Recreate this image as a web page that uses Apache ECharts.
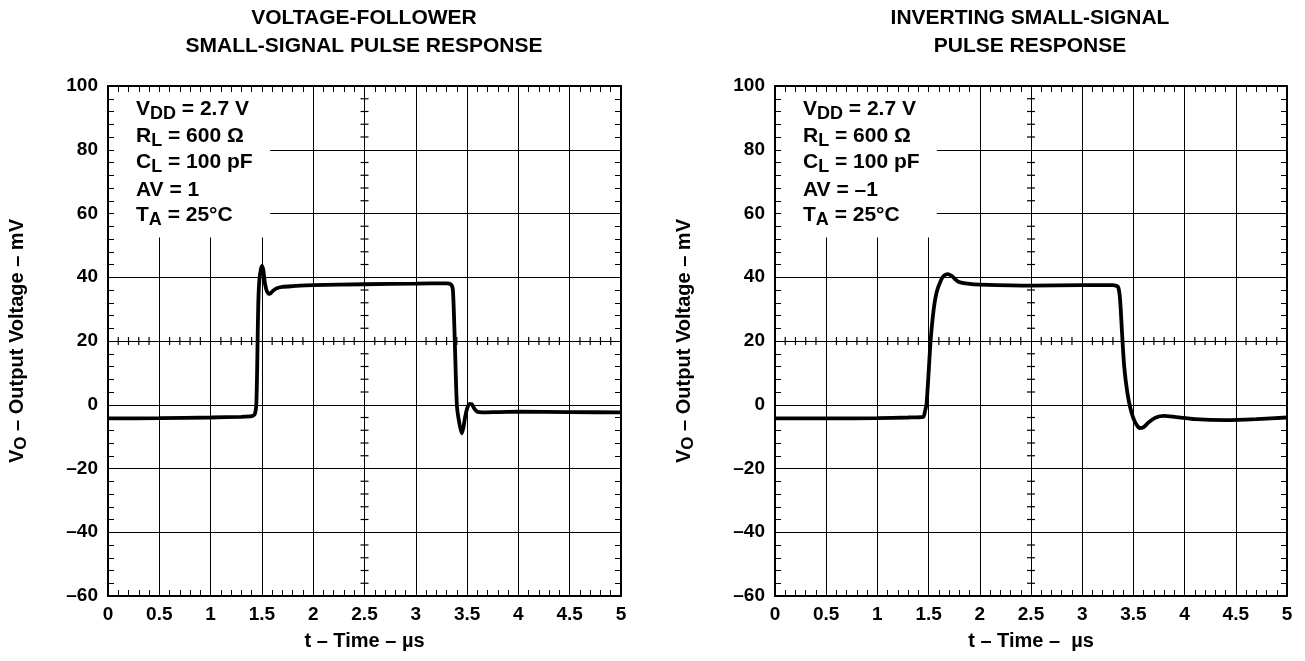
<!DOCTYPE html>
<html><head><meta charset="utf-8">
<script src="https://cdn.jsdelivr.net/npm/echarts@6/dist/echarts.min.js"></script>
<style>html,body{margin:0;padding:0;background:#fff}#c{width:1305px;height:661px}</style>
</head><body><div id="c"></div>
<script>
// ---------- data ----------
const titleA = ['VOLTAGE-FOLLOWER', 'SMALL-SIGNAL PULSE RESPONSE'];
const titleB = ['INVERTING SMALL-SIGNAL', 'PULSE RESPONSE'];
const xLabelA = 't \u2013 Time \u2013 \u00b5s';
const xLabelB = 't \u2013 Time \u2013  \u00b5s';
const xTickValues = [0, 0.5, 1, 1.5, 2, 2.5, 3, 3.5, 4, 4.5, 5];
const yTickValues = [-60, -40, -20, 0, 20, 40, 60, 80, 100];
const centerTime = 2.5;
const centerVolt = 20;
const timeMinor = [0.1,0.2,0.3,0.4,0.6,0.7,0.8,0.9,1.1,1.2,1.3,1.4,1.6,1.7,1.8,1.9,2.1,2.2,2.3,2.4,2.6,2.7,2.8,2.9,3.1,3.2,3.3,3.4,3.6,3.7,3.8,3.9,4.1,4.2,4.3,4.4,4.6,4.7,4.8,4.9];
const voltMinor = [-56,-52,-48,-44,-36,-32,-28,-24,-16,-12,-8,-4,4,8,12,16,24,28,32,36,44,48,52,56,64,68,72,76,84,88,92,96];
const notesA = [['V','DD',' = 2.7 V'], ['R','L',' = 600 \u03a9'], ['C','L',' = 100 pF'], ['AV','',' = 1'], ['T','A',' = 25\u00b0C']];
const notesB = [['V','DD',' = 2.7 V'], ['R','L',' = 600 \u03a9'], ['C','L',' = 100 pF'], ['AV','',' = \u20131'], ['T','A',' = 25\u00b0C']];
// voltage follower response (µs, mV)
const timeA = [0, 0.5, 1.0, 1.3, 1.40, 1.43, 1.445, 1.452, 1.458, 1.465, 1.475, 1.49, 1.503, 1.515, 1.53, 1.55, 1.57, 1.586, 1.61, 1.64, 1.7, 1.8, 2.0, 2.5, 3.0, 3.3, 3.34, 3.36, 3.37, 3.38, 3.40, 3.42, 3.447, 3.465, 3.48, 3.50, 3.52, 3.545, 3.57, 3.60, 3.65, 3.8, 4.0, 4.5, 5.0];
const voltA = [-4.3, -4.2, -4.0, -3.8, -3.6, -3.0, 0, 8, 20, 32, 39, 42.5, 43.6, 42, 38, 35.5, 34.8, 35, 35.8, 36.5, 37, 37.2, 37.5, 37.8, 38, 38.1, 37.8, 36.5, 30, 20, 0, -5, -9, -7, -4, -1.2, 0.2, 0.2, -1.2, -2.2, -2.4, -2.3, -2.2, -2.3, -2.4];
// inverting response (µs, mV)
const timeB = [0, 0.5, 1.0, 1.3, 1.448, 1.465, 1.48, 1.50, 1.52, 1.55, 1.58, 1.62, 1.65, 1.69, 1.73, 1.79, 1.9, 2.0, 2.5, 3.0, 3.3, 3.35, 3.37, 3.39, 3.41, 3.44, 3.47, 3.51, 3.56, 3.60, 3.65, 3.72, 3.8, 3.9, 4.1, 4.4, 4.7, 5.0];
const voltB = [-4.3, -4.3, -4.2, -4.0, -3.8, -2, 0.2, 10, 20.3, 30, 35.5, 39, 40.5, 41, 40.3, 38.6, 37.9, 37.7, 37.4, 37.5, 37.5, 37, 33, 22, 12, 4, -1, -5, -7.3, -7, -5.5, -4, -3.5, -3.8, -4.5, -4.8, -4.5, -4.0];

// ---------- chart ----------
const FONT = '"Liberation Sans", Arial, Helvetica, sans-serif';
const grids = [{left:108, top:86, width:513, height:510}, {left:775, top:86, width:512, height:510}];
const black = '#000';
const lblStyle = {color: black, fontFamily: FONT, fontWeight: 'bold', fontSize: 19};

function xAxes(g, name) {
  const base = {gridIndex: g, type: 'value', min: 0, max: 5, interval: 0.5};
  return [
    Object.assign({}, base, {z: 0, axisLine: {show: false}, axisTick: {show: false}, axisLabel: {show: false},
      splitLine: {show: true, lineStyle: {color: black, width: 1}}}),
    Object.assign({}, base, {z: 3, position: 'bottom',
      axisLine: {show: true, onZero: false, lineStyle: {color: black, width: 2}},
      axisTick: {show: true, inside: true, length: 6, lineStyle: {color: black, width: 1}},
      minorTick: {show: true, splitNumber: 5, length: 6, lineStyle: {color: black, width: 1}},
      axisLabel: Object.assign({margin: 9, formatter: v => String(v)}, lblStyle),
      splitLine: {show: false},
      name: name, nameLocation: 'middle', nameGap: 35,
      nameTextStyle: {color: black, fontFamily: FONT, fontWeight: 'bold', fontSize: 20}}),
    Object.assign({}, base, {z: 3, position: 'top',
      axisLine: {show: true, onZero: false, lineStyle: {color: black, width: 2}},
      axisTick: {show: true, inside: true, length: 6, lineStyle: {color: black, width: 1}},
      minorTick: {show: true, splitNumber: 5, length: 6, lineStyle: {color: black, width: 1}},
      axisLabel: {show: false}, splitLine: {show: false}})
  ];
}
function yAxes(g) {
  const base = {gridIndex: g, type: 'value', min: -60, max: 100, interval: 20};
  return [
    Object.assign({}, base, {z: 0, axisLine: {show: false}, axisTick: {show: false}, axisLabel: {show: false},
      splitLine: {show: true, lineStyle: {color: black, width: 1}}}),
    Object.assign({}, base, {z: 3, position: 'left',
      axisLine: {show: true, onZero: false, lineStyle: {color: black, width: 2}},
      axisTick: {show: true, inside: true, length: 6, lineStyle: {color: black, width: 1}},
      minorTick: {show: true, splitNumber: 5, length: 6, lineStyle: {color: black, width: 1}},
      axisLabel: Object.assign({margin: 10, formatter: v => v < 0 ? '\u2013' + Math.abs(v) : String(v)}, lblStyle),
      splitLine: {show: false},
      name: 'V{s|O} \u2013 Output Voltage \u2013 mV', nameLocation: 'middle', nameGap: 78,
      nameTextStyle: {color: black, fontFamily: FONT, fontWeight: 'bold', fontSize: 20,
        rich: {s: {color: black, fontFamily: FONT, fontWeight: 'bold', fontSize: 17, padding: [9, 0, 0, 0]}}}}),
    Object.assign({}, base, {z: 3, position: 'right',
      axisLine: {show: true, onZero: false, lineStyle: {color: black, width: 2}},
      axisTick: {show: true, inside: true, length: 6, lineStyle: {color: black, width: 1}},
      minorTick: {show: true, splitNumber: 5, length: 6, lineStyle: {color: black, width: 1}},
      axisLabel: {show: false}, splitLine: {show: false}})
  ];
}

function crossTicks(g) {
  const data = timeMinor.map(t => [t, centerVolt, 0]).concat(voltMinor.map(v => [centerTime, v, 1]));
  return {
    type: 'custom', xAxisIndex: g * 3, yAxisIndex: g * 3, z: 4, silent: true, data: data,
    renderItem: (params, api) => {
      const p = api.coord([api.value(0), api.value(1)]);
      const vert = api.value(2) === 0;
      return {type: 'line', shape: vert ? {x1: p[0], y1: p[1] - 4, x2: p[0], y2: p[1] + 4}
                                      : {x1: p[0] - 4, y1: p[1], x2: p[0] + 4, y2: p[1]},
        style: {stroke: black, lineWidth: 1.2}};
    }
  };
}
function curve(g, ts, vs) {
  return {
    type: 'line', xAxisIndex: g * 3, yAxisIndex: g * 3, z: 2, showSymbol: false, smooth: 0.2,
    data: ts.map((t, i) => [t, vs[i]]),
    lineStyle: {color: black, width: 3.8}, silent: true,
    markArea: {silent: true, itemStyle: {color: '#fff', opacity: 1}, label: {show: false},
      data: [[{coord: [0, 100]}, {coord: [1.58, 52.5]}]]}
  };
}
function notes(g, lines) {
  const x0 = grids[g].left + 28;
  const ys = [113, 140, 166, 194, 219];
  return lines.map((l, i) => ({
    type: 'text', left: x0, top: ys[i] - 14, z: 10,
    style: {
      text: '{m|' + l[0] + '}' + (l[1] ? '{s|' + l[1] + '}' : '') + '{m|' + l[2] + '}',
      rich: {
        m: {fill: black, fontFamily: FONT, fontWeight: 'bold', fontSize: 21, lineHeight: 23},
        s: {fill: black, fontFamily: FONT, fontWeight: 'bold', fontSize: 18, padding: [10, 0, 0, 0]}
      }
    }
  }));
}
function titles(cx, lines) {
  return lines.map((l, i) => ({
    type: 'text', x: cx, y: 18 + i * 28, z: 10,
    style: {text: l, fill: black, fontFamily: FONT, fontWeight: 'bold', fontSize: 21, align: 'center', verticalAlign: 'middle'}
  }));
}

const chart = echarts.init(document.getElementById('c'));
chart.setOption({
  animation: false,
  backgroundColor: '#fff',
  grid: grids,
  xAxis: xAxes(0, xLabelA).concat(xAxes(1, xLabelB)),
  yAxis: yAxes(0).concat(yAxes(1)),
  series: [curve(0, timeA, voltA), crossTicks(0), curve(1, timeB, voltB), crossTicks(1)],
  graphic: titles(364, titleA).concat(titles(1030, titleB), notes(0, notesA), notes(1, notesB))
});
</script></body></html>
